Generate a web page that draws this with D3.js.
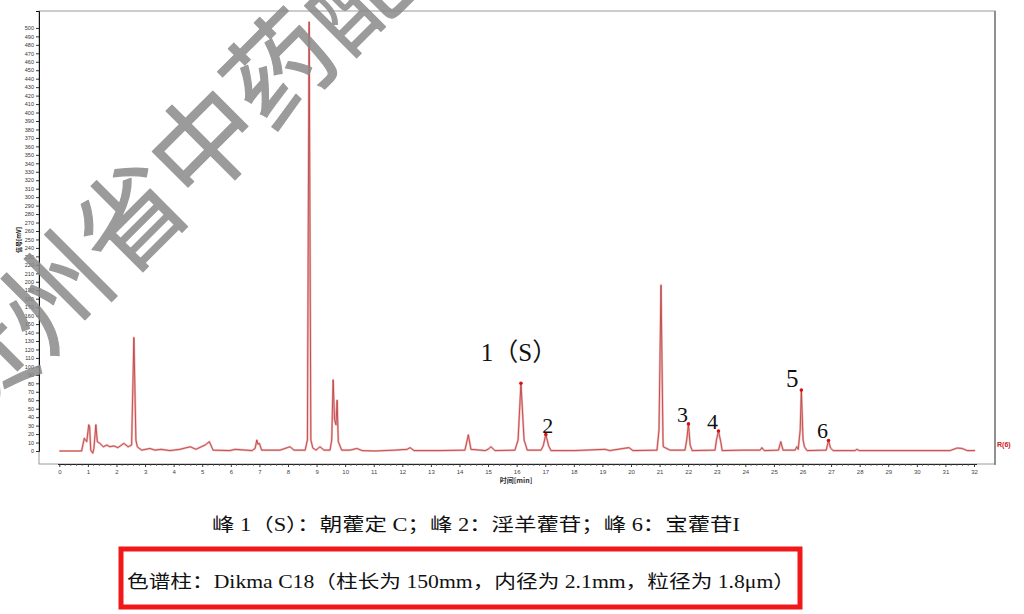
<!DOCTYPE html>
<meta charset="utf-8">
<title>Chromatogram</title>
<style>
body { margin: 0; background: #fff; }
</style>
<body>
<script src="https://cdn.jsdelivr.net/npm/d3@7"></script>
<script>
// chromatogram trace: time [min], signal [mV]
var times = [0, 0.78, 0.875, 0.96, 1.03, 1.06, 1.10, 1.17, 1.21, 1.28, 1.33, 1.42, 1.54, 1.66, 1.77, 1.91, 2.05, 2.26, 2.41, 2.53, 2.61, 2.68, 2.73, 2.88,
  3.17, 3.35, 3.56, 3.87, 4.22, 4.58, 4.78, 5.10, 5.25, 5.38, 5.97, 6.15, 6.74, 6.85, 6.91, 6.95, 7.00, 7.08, 7.72, 8.07, 8.21, 8.60, 8.68, 8.74, 8.80, 8.87, 8.98,
  9.12, 9.26, 9.47, 9.53, 9.58, 9.63, 9.68, 9.72, 9.76, 9.88, 10.17, 10.41, 10.59, 11.05, 11.74, 12.17, 12.27, 12.41, 13.32, 14.19, 14.31, 14.40, 14.90,
  15.00, 15.10, 15.24, 15.94, 16.05, 16.15, 16.26, 16.37, 16.85, 16.93, 17.02, 17.12, 17.20, 18.04, 19.09, 19.25, 19.93, 20.07, 20.91, 20.98, 21.05, 21.12,
  21.13, 21.37, 21.89, 21.95, 22.01, 22.07, 22.14, 22.94, 22.99, 23.06, 23.14, 23.19, 23.92, 24.52, 24.58, 24.66, 25.16, 25.24, 25.32, 25.74, 25.80, 25.85,
  25.92, 25.96, 26.02, 26.07, 26.16, 26.83, 26.91, 26.98, 27.07, 27.84, 27.90, 27.98, 31.17, 31.41, 31.58, 31.76, 32.04];
var signal = [0, 0, 15, 11, 31, 29, 1, -2.5, 3, 31, 11, 9, 5, 7, 5, 6, 4, 9, 5, 7, 134, 13, 5, 1,
  3, 1, 2, 0.5, 2, 5, 2, 7, 11, 1, 0.5, 2, 0.5, 3, 13, 8, 9, 1, 1, 5, 1, 1, 13, 507, 13, 3.5, 1,
  5, 1, 1, 13, 84, 37, 31, 60, 11, 1, 1, 3, 0.5, 0, 1, 2, 4, 0.5, 0.5, 1, 19, 2, 0.5,
  2, 5, 0.5, 1, 13, 80, 13, 1, 1, 6, 19.5, 6, 0.5, 0.5, 2, 0.5, 4, 0.5, 1, 25, 196, 13,
  5, 1, 1, 13, 32, 7, 0.5, 1, 13, 23.6, 11, 0.5, 1, 1, 4, 0.5, 1, 11, 1, 1, 5, 2,
  25, 72, 13, 5, 0.5, 1, 12.4, 3.5, 0.5, 0.5, 2, 0.5, 0.5, 3.5, 3, 0.5, 0.5];

// marked peaks
var peakNames = ['1（S）', '2', '3', '4', '5', '6'];
var peakTimes = [16.15, 17.02, 22.01, 23.06, 25.96, 26.91];
var peakValues = [80, 19.5, 32, 23.6, 72, 12.4];

var xTicks = d3.range(0, 33);
var yTicks = d3.range(0, 510, 10);

var caption1 = '峰 1（S）：朝藿定 C；峰 2：淫羊藿苷；峰 6：宝藿苷I';
var caption2 = '色谱柱：Dikma C18（柱长为 150mm，内径为 2.1mm，粒径为 1.8μm）';
var watermark = '贵州省中药配方颗粒';

var W = 1024, H = 614;
var svg = d3.select('body').append('svg')
            .attr('width', W)
            .attr('height', H)
            .style('display', 'block');

svg.append('rect').attr('width', W).attr('height', H).style('fill', '#fff');

var x = d3.scaleLinear().domain([0, 32]).range([59.3, 974]);
var y = d3.scaleLinear().domain([0, 520]).range([451, 11]);

// frame
svg.append('rect')
    .attr('x', 39).attr('y', 11)
    .attr('width', 956).attr('height', 453)
    .style('fill', 'none')
    .style('stroke', '#9a9a9a')
    .style('stroke-width', 1);
svg.append('line')
    .attr('x1', 995).attr('x2', 995).attr('y1', 11).attr('y2', 465)
    .style('stroke', '#555').style('stroke-width', 1);

// y axis
var yAxis = d3.axisLeft(y).tickValues(yTicks).tickSize(3).tickPadding(2);
var gy = svg.append('g').attr('transform', 'translate(39,0)').call(yAxis);
gy.select('.domain').style('stroke', '#111');
gy.selectAll('.tick line').style('stroke', '#333');
gy.selectAll('text').style('font-family', 'Liberation Sans, Arial, sans-serif')
    .style('font-size', '5.5px').style('fill', '#333');

svg.append('text')
    .attr('transform', 'translate(21,240) rotate(-90)')
    .style('font-family', 'Noto Sans CJK SC, sans-serif')
    .style('font-size', '6px')
    .style('font-weight', 'bold')
    .style('text-anchor', 'middle')
    .text('信号[mV]');

// x axis
var xAxis = d3.axisBottom(x).tickValues(xTicks).tickSize(3).tickPadding(3);
var gx = svg.append('g').attr('transform', 'translate(0,464)').call(xAxis);
gx.select('.domain').attr('d', 'M58,0.5H977').style('stroke', '#222');
gx.selectAll('.tick line').style('stroke', '#333');
gx.selectAll('text').style('font-family', 'Liberation Sans, Arial, sans-serif')
    .style('font-size', '6px').style('fill', '#444');
var minor = d3.range(0, 32.01, 0.2).filter(function(d){ return Math.abs(d - Math.round(d)) > 0.01; });
svg.selectAll('.minor').data(minor).enter().append('line')
    .attr('class', 'minor')
    .attr('x1', function(d){ return x(d); })
    .attr('x2', function(d){ return x(d); })
    .attr('y1', 464).attr('y2', 466)
    .style('stroke', '#555').style('stroke-width', 0.8);

svg.append('text')
    .attr('x', 516).attr('y', 483)
    .style('font-family', 'Noto Sans CJK SC, sans-serif')
    .style('font-size', '7px')
    .style('font-weight', 'bold')
    .style('text-anchor', 'middle')
    .style('fill', '#333')
    .text('时间[min]');

// trace
var pts = times.map(function(t, i){ return [t, signal[i]]; });
var line = d3.line()
    .x(function(d){ return x(d[0]); })
    .y(function(d){ return y(d[1]); });
svg.append('path').datum(pts)
    .attr('d', line)
    .style('fill', 'none')
    .style('stroke', '#f3b3b3')
    .style('stroke-width', 2.2)
    .style('stroke-linejoin', 'round');
svg.append('path').datum(pts)
    .attr('d', line)
    .style('fill', 'none')
    .style('stroke', '#b33a3a')
    .style('stroke-width', 0.8)
    .style('stroke-linejoin', 'round');

// peak markers
svg.selectAll('.dot').data(peakTimes).enter().append('circle')
    .attr('class', 'dot')
    .attr('cx', function(d){ return x(d); })
    .attr('cy', function(d, i){ return y(peakValues[i]); })
    .attr('r', 1.8)
    .style('fill', '#e01010');

var labelDx = [-2, 2, -6, -6, -9, -6];
var labelDy = [-22, -2, -2, -2, -3, -3];
svg.selectAll('.plabel').data(peakNames).enter().append('text')
    .attr('class', 'plabel')
    .attr('x', function(d, i){ return x(peakTimes[i]) + labelDx[i]; })
    .attr('y', function(d, i){ return y(peakValues[i]) + labelDy[i]; })
    .style('font-family', 'Liberation Serif, Noto Sans CJK SC, serif')
    .style('font-size', function(d, i){ return i == 0 || i == 4 ? '25px' : '22px'; })
    .style('text-anchor', 'middle')
    .style('fill', '#111')
    .text(function(d){ return d; });

svg.append('text')
    .attr('x', 997).attr('y', 447)
    .style('font-family', 'Liberation Sans, Arial, sans-serif')
    .style('font-size', '7px')
    .style('font-weight', 'bold')
    .style('fill', '#d02020')
    .text('R(6)');

// watermark
svg.append('text')
    .attr('transform', 'translate(-30,433) rotate(-45)')
    .style('font-family', 'Noto Sans CJK SC, sans-serif')
    .style('font-size', '106px')
    .style('fill', '#8a8a8a')
    .style('stroke', '#8a8a8a')
    .style('stroke-width', 1.2)
    .style('stroke-linejoin', 'round')
    .style('opacity', 0.85)
    .text(watermark);

// captions
svg.append('text')
    .attr('x', 212).attr('y', 531)
    .attr('textLength', 528)
    .attr('lengthAdjust', 'spacingAndGlyphs')
    .style('font-family', 'Liberation Serif, Noto Sans CJK SC, serif')
    .style('font-size', '18px')
    .style('fill', '#111')
    .text(caption1);

svg.append('rect')
    .attr('x', 121).attr('y', 549)
    .attr('width', 679).attr('height', 58)
    .style('fill', 'none')
    .style('stroke', '#f01818')
    .style('stroke-width', 5);

svg.append('text')
    .attr('x', 127).attr('y', 588)
    .attr('textLength', 668)
    .attr('lengthAdjust', 'spacingAndGlyphs')
    .style('font-family', 'Liberation Serif, Noto Sans CJK SC, serif')
    .style('font-size', '18px')
    .style('fill', '#111')
    .text(caption2);
</script>
</body>
